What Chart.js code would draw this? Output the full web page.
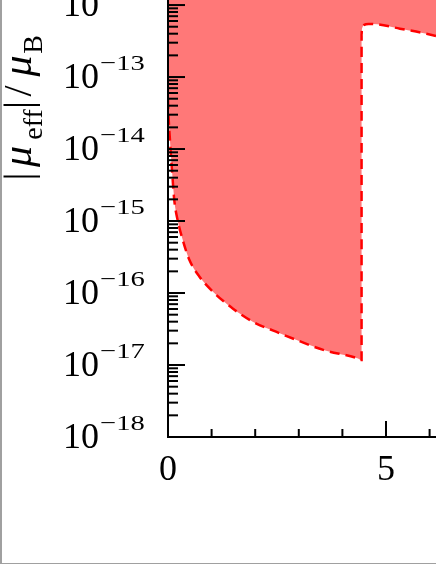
<!DOCTYPE html>
<html>
<head>
<meta charset="utf-8">
<script src="https://cdn.jsdelivr.net/npm/chart.js@4.4.0/dist/chart.umd.min.js"></script>
<style>
    html, body { margin: 0; padding: 0; background: #fff; }
    #wrap { position: relative; width: 436px; height: 564px; overflow: hidden; }
    #frame {
        position: absolute; left: 0; top: 0; width: 436px; height: 564px;
        box-sizing: border-box; pointer-events: none;
        border-left: 2px solid #a0a0a0; border-bottom: 1px solid #a0a0a0;
    }
</style>
</head>
<body>
<div id="wrap">
    <canvas id="chart" width="436" height="564"></canvas>
    <div id="frame"></div>
</div>
<script>
// lower edge of the excluded region (left part)
const lowerX = [0, 0.007, 0.046, 0.108, 0.144, 0.222, 0.337, 0.489, 0.718, 1.025, 1.484, 1.943,
                2.477, 2.936, 3.56, 4.36, 4.44];
const lowerY = [5.0e-14, 3.5e-14, 1.3e-14, 3.7e-15, 1.95e-15, 1.02e-15, 5.5e-16, 2.9e-16, 1.7e-16,
                1.05e-16, 6.1e-17, 4.0e-17, 2.9e-17, 2.24e-17, 1.62e-17, 1.23e-17, 1.17e-17];
// lower edge of the excluded region (right part, after the jump)
const upperX = [4.44, 4.445, 4.46, 4.5, 4.6, 4.8, 5.32, 5.93, 6.4];
const upperY = [3.8e-13, 4.4e-13, 4.9e-13, 5.3e-13, 5.45e-13, 5.4e-13, 4.7e-13, 4.0e-13, 3.4e-13];

const X_MIN = 0, X_MAX = 6.147;
const Y_MIN = 1e-18, Y_MAX = 1.175e-12;

const xMajorTicks = [0, 5];
const xMinorTicks = [1, 2, 3, 4, 6];
const xTickLabels = ["0", "5"];
const yMajorTicks = [1e-18, 1e-17, 1e-16, 1e-15, 1e-14, 1e-13, 1e-12];
const yTickLabels = ["\u221218", "\u221217", "\u221216", "\u221215", "\u221214", "\u221213", "\u221212"];

const SERIF = "'Liberation Serif', 'Times New Roman', serif";

function boundaryPoints() {
    const pts = [];
    lowerX.forEach((x, i) => pts.push({x: x, y: lowerY[i]}));
    upperX.forEach((x, i) => pts.push({x: x, y: upperY[i]}));
    return pts;
}

function yMinorTicks() {
    const out = [];
    for (let k = -18; k <= -12; k++) {
        for (let m = 2; m <= 9; m++) {
            const v = m * Math.pow(10, k);
            if (v < Y_MAX) out.push(v);
        }
    }
    return out;
}

function tick(ctx, x0, y0, x1, y1) {
    ctx.beginPath();
    ctx.moveTo(x0, y0);
    ctx.lineTo(x1, y1);
    ctx.stroke();
}

const smAxes = {
    id: "smAxes",
    afterDatasetsDraw(chart) {
        const ctx = chart.ctx;
        const area = chart.chartArea;
        const xs = chart.scales.x;
        const ys = chart.scales.y;
        ctx.save();
        ctx.strokeStyle = "#000";
        ctx.lineWidth = 2;
        ctx.lineCap = "butt";
        // axis lines
        ctx.beginPath();
        ctx.moveTo(area.left, area.top);
        ctx.lineTo(area.left, area.bottom);
        ctx.lineTo(area.right, area.bottom);
        ctx.stroke();
        // ticks point into the plot
        yMajorTicks.forEach(v => {
            const py = ys.getPixelForValue(v);
            tick(ctx, area.left, py, area.left + 17, py);
        });
        yMinorTicks().forEach(v => {
            const py = ys.getPixelForValue(v);
            tick(ctx, area.left, py, area.left + 10, py);
        });
        xMajorTicks.forEach(v => {
            const px = xs.getPixelForValue(v);
            tick(ctx, px, area.bottom, px, area.bottom - 16);
        });
        xMinorTicks.forEach(v => {
            const px = xs.getPixelForValue(v);
            tick(ctx, px, area.bottom, px, area.bottom - 8);
        });
        ctx.restore();
    },
    afterDraw(chart) {
        const ctx = chart.ctx;
        const area = chart.chartArea;
        const xs = chart.scales.x;
        const ys = chart.scales.y;
        ctx.save();
        ctx.fillStyle = "#000";
        ctx.textBaseline = "alphabetic";

        // y tick labels: 10 with a raised exponent
        yMajorTicks.forEach((v, i) => {
            const py = ys.getPixelForValue(v);
            ctx.font = "36px " + SERIF;
            ctx.textAlign = "left";
            ctx.fillText("10", 63, py + 10.5);
            const w = ctx.measureText("10").width;
            ctx.save();
            ctx.translate(63 + w + 1, py - 7);
            ctx.scale(1.3, 1);
            ctx.font = "22px " + SERIF;
            ctx.fillText(yTickLabels[i], 0, 0);
            ctx.restore();
        });

        // x tick labels
        ctx.font = "36px " + SERIF;
        ctx.textAlign = "center";
        xMajorTicks.forEach((v, i) => {
            ctx.fillText(xTickLabels[i], xs.getPixelForValue(v), area.bottom + 43);
        });

        // y title |mu_eff|/mu_B, rotated
        const parts = [
            {t: "|", f: "40px " + SERIF, at: 176.5, dy: 0},
            {t: "\u03bc", f: "italic 42px " + SERIF, at: 156.5, dy: 0},
            {t: "eff", f: "28px " + SERIF, at: 124.5, dy: 11},
            {t: "|", f: "40px " + SERIF, at: 105, dy: 0},
            {t: "/", f: "40px " + SERIF, at: 91, dy: 0},
            {t: "\u03bc", f: "italic 42px " + SERIF, at: 66, dy: 0},
            {t: "B", f: "28px " + SERIF, at: 44.5, dy: 11}
        ];
        ctx.translate(31, 0);
        ctx.rotate(-Math.PI / 2);
        ctx.textAlign = "center";
        parts.forEach(p => {
            ctx.font = p.f;
            ctx.fillText(p.t, -p.at, p.dy);
        });
        ctx.restore();
    }
};

new Chart(document.getElementById("chart"), {
    type: "line",
    data: {
        datasets: [{
            data: boundaryPoints(),
            borderColor: "#ff0000",
            borderWidth: 2.5,
            borderDash: [10, 6],
            backgroundColor: "#ff7878",
            fill: "end",
            pointRadius: 0,
            cubicInterpolationMode: "monotone"
        }]
    },
    options: {
        responsive: false,
        animation: false,
        devicePixelRatio: 1,
        layout: {padding: {left: 168, right: 0, top: 0, bottom: 127}},
        plugins: {legend: {display: false}, tooltip: {enabled: false}},
        scales: {
            x: {type: "linear", min: X_MIN, max: X_MAX, display: false},
            y: {type: "logarithmic", min: Y_MIN, max: Y_MAX, display: false}
        }
    },
    plugins: [smAxes]
});
</script>
</body>
</html>
